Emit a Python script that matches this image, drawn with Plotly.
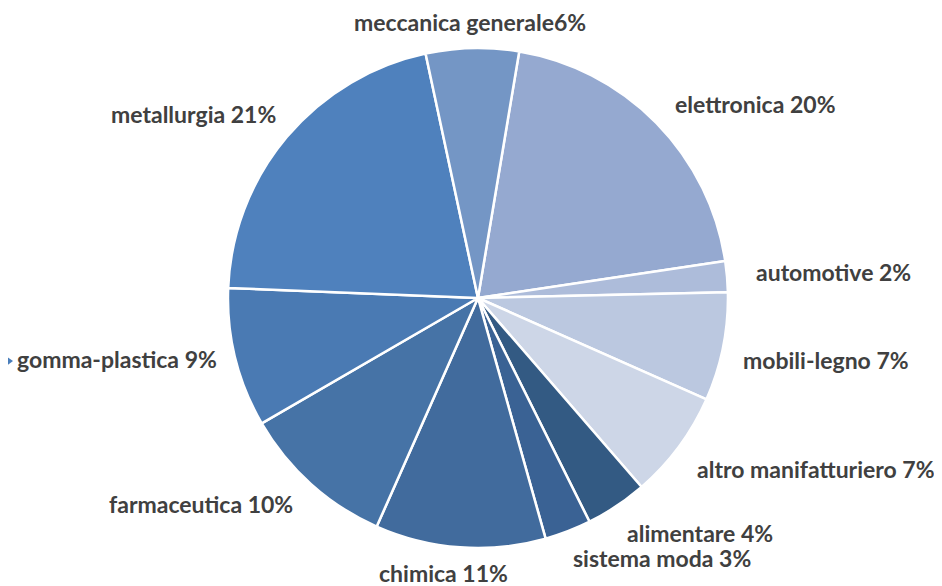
import plotly.graph_objects as go

# sectors, clockwise from "elettronica"
labels = ['elettronica', 'automotive', 'mobili-legno', 'altro manifatturiero',
          'alimentare', 'sistema moda', 'chimica', 'farmaceutica',
          'gomma-plastica', 'metallurgia', 'meccanica generale']
values = [20, 2, 7, 7, 4, 3, 11, 10, 9, 21, 6]
colors = ['#95A9D0', '#ADBCDA', '#BBC8E0', '#CDD6E7', '#335A83', '#3A6294',
          '#416B9D', '#4673A6', '#4A7AB3', '#4F81BD', '#7496C5']

# label text as printed in the chart
label_texts = ['elettronica 20%', 'automotive 2%', 'mobili-legno 7%',
               'altro manifatturiero 7%', 'alimentare 4%', 'sistema moda 3%',
               'chimica 11%', 'farmaceutica 10%', 'gomma-plastica 9%',
               'metallurgia 21%', 'meccanica generale6%']
# label centres in pixels as seen in the page (x from left, y from top)
label_pos = [(755, 104), (833, 272), (826, 360), (816, 469), (700, 533),
             (662, 558), (443, 573), (201, 504), (117, 359), (193, 114),
             (470, 22)]

W, H = 942, 586
OFF = 8  # the html body margin shifts the figure by 8px

fig = go.Figure(go.Pie(
    labels=labels,
    values=values,
    sort=False,
    direction='clockwise',
    rotation=9.5,
    marker=dict(colors=colors, line=dict(color='white', width=2.5)),
    textinfo='none',
    hoverinfo='label+percent',
    domain=dict(x=[0.2335, 0.7643], y=[0.0785, 0.9317]),
    showlegend=False
))

for txt, (px_, py_) in zip(label_texts, label_pos):
    fig.add_annotation(
        x=(px_ - OFF) / W, y=1 - (py_ - OFF) / H, xref='paper', yref='paper',
        text=txt, showarrow=False,
        font=dict(family='Lato', size=23, color='#404040', weight='bold'),
        xanchor='center', yanchor='middle'
    )

# partial arrow shape at the left edge
fig.add_shape(type='path', xref='paper', yref='paper',
              path='M %f %f L %f %f L %f %f Z' % (
                  -20 / W, 1 - (343 - OFF) / H,
                  (13 - OFF) / W, 1 - (361 - OFF) / H,
                  -20 / W, 1 - (380 - OFF) / H),
              fillcolor='#4A7EBB', line=dict(width=0))

fig.update_layout(
    width=W, height=H,
    margin=dict(l=0, r=0, t=0, b=0),
    paper_bgcolor='white',
    plot_bgcolor='white'
)

fig.write_html("out.html")
